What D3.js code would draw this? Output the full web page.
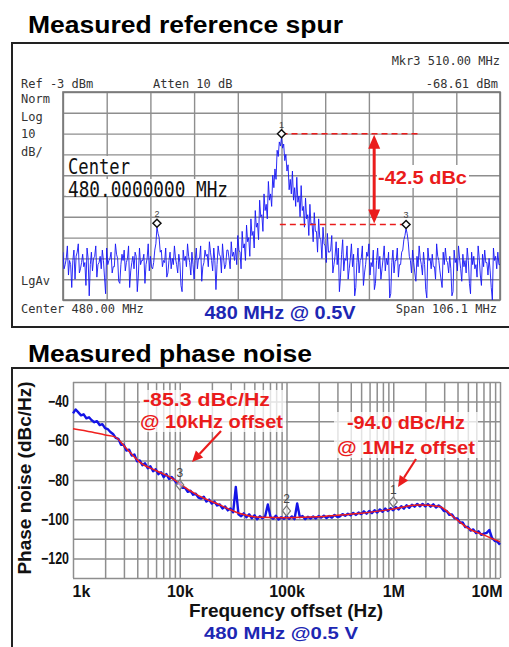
<!DOCTYPE html>
<html><head><meta charset="utf-8">
<script src="https://cdn.jsdelivr.net/npm/d3@7"></script>
<style>body{margin:0;background:#fff}svg{display:block}</style>
</head><body><svg id="c" width="509" height="647"></svg>
<script>
// ---------- Spectrum analyzer panel data ----------
const specStartMHz = 426.95, specStopMHz = 533.05;
const specRefDbm = -3, specDbPerDiv = 10, specDivs = 10;
// sweep bins: bin maxima
const specDbm = [
 -80,-86,-77,-84,-97,-79,-82,-76,-88,-81,-85,-78,-101,-80,-83,-77,-86,-82,-79,-92,-78,-84,-80,-87,-76,-83,-95,-81,-79,-85,-77,-89,-82,-80,-99,-78,-84,-81,-86,-76,-82,-88,-79,
 -68,-73,
 -79,-84,-78,-90,-80,-83,-77,-86,-81,-96,-79,-82,-76,-85,-80,-93,-78,-83,-77,-87,-79,-81,-75,-84,-78,-98,-77,-82,-76,-88,-79,-83,-75,-80,
 -78,-72,-80,-70,-76,-67,-73,-64,-70,-60,-66,-55,-62,-52,-57,-46,-52,-43,-40,-31,-27,-25,-28,-33,-38,-45,-41,-49,-44,-53,-48,-58,-54,-62,-57,-66,-61,-70,-64,-74,-68,-77,-71,
 -80,-72,-86,-75,-78,-92,-74,-83,-77,-88,-76,-81,-97,-78,-84,-77,-90,-80,-76,-85,-79,-95,-78,-82,-88,-77,-83,-80,-100,-79,-84,-78,-86,-80,
 -74,-68.6,-75,
 -84,-79,-90,-82,-77,-86,-80,-98,-78,-83,-81,-87,-76,-84,-93,-80,-78,-85,-82,-101,-79,-83,-77,-88,-81,-84,-78,-95,-80,-82,-86,-77,-91,-81,-79,-85,-83,-97,-78,-82,-80,-86
];
// in-between samples (half-bin positions)
const specMidDbm = [
 -88,-83,-91,-86,-84,-93,-80,-90,-85,-87,-96,-83,-86,-89,-82,-92,-85,-88,-84,-100,-86,-83,-90,-87,-81,-94,-86,-84,-89,-83,-97,-85,-88,-82,-91,-86,-84,-95,-83,-89,-87,-85,-76,
 -71,-80,
 -87,-85,-92,-84,-88,-86,-83,-90,-85,-99,-84,-87,-82,-91,-86,-84,-88,-83,-94,-85,-82,-87,-80,-89,-84,-86,-81,-90,-83,-86,-79,-88,-82,-84,
 -86,-79,-88,-78,-84,-75,-82,-72,-78,-68,-74,-63,-70,-60,-64,-55,-58,-49,-45,-34,-29,-30,-36,-41,-50,-52,-55,-58,-56,-63,-60,-68,-64,-72,-67,-75,-70,-80,-73,-83,-76,-85,
 -80,-79,-90,-82,-86,-99,-81,-89,-84,-93,-83,-87,-101,-85,-90,-83,-96,-86,-82,-91,-87,-98,-84,-88,-93,-83,-89,-86,-102,-85,-90,-84,-92,-86,-79,
 -72,-71,-82,
 -90,-85,-94,-87,-83,-91,-86,-102,-84,-88,-87,-93,-82,-89,-97,-86,-84,-90,-88,-99,-85,-89,-83,-94,-87,-90,-84,-100,-86,-88,-92,-83,-96,-87,-85,-91,-89,-103,-84,-88,-86
];
const specMarkerIdx = [{label:"1", idx:100},{label:"2", idx:43},{label:"3", idx:157}];
const dbcLabel = "-42.5 dBc";
const dashTopMHz = [480, 513.3], dashBotMHz = [479.6, 510], arrowMHz = 502.5;

// ---------- Phase noise panel data ----------
const pnStartHz = 1e3, pnPtsPerDecade = 40;
const pnMeasured = [
 -46,-44,-45.5,-47,-46.5,-48.5,-48,-49.5,-50.5,-50,-52,-51.5,-53.5,-54,-55.5,-56.5,-58.5,
 -59,-62,-62,-65,
 -64.5,-67.5,-67,-70.5,-70,
 -72.5,-71.5,-74,-73,-75.5,-74.5,
 -77,-76,-78.5,-77,-79.5,-78.5,
 -80,-82,-81.5,
 -84,-84,-86,-85.5,-87.5,-87,-89,
 -89.5,-88.5,-91,-90,-92,-91,-93,-92.5,
 -94.5,-93.5,-95.5,-94.5,-96.5,-83.5,-97.5,
 -98.5,-97,-99,-97.5,-99.5,-98,-100,-98.5,
 -99.5,-98.5,-92.5,-98.8,-99.8,-98.2,-100.2,-99,-99.8,-98.5,
 -99.8,-98.6,-100,-92,-99,-98.4,-100,-98.8,-99.6,-98.6,-99.6,-98.4,
 -99.2,-98.2,-99.4,-98.4,-99.2,-97.8,-98.8,
 -98.6,-97.4,-98.2,-97.2,-98,-96.8,-97.8,-96.6,-97.4,
 -96,-97.2,-95.8,-96.9,-95.4,-96.6,-95,-96.2,-94.6,-95.8,-94.4,-95.4,
 -93.8,-95,-93.4,-94.6,-92.9,-94.2,-92.6,-93.6,-92.2,
 -93.4,-92.2,-93.5,-92.3,-93.6,-92.4,-94,-93,
 -94,-95.8,-95.8,-97.8,-97.6,-99.6,
 -99.6,-101.8,-101.6,-104,-104,
 -105.8,-105.2,-107,-106.2,-108,-107.4,
 -107,-105.5,-109.5,-111,-111.5,-113
];
const pnFitHz = [1e3,1.5e3,2e3,2.47e3,3.2e3,4.24e3,6.1e3,8.7e3,1e4,1.5e4,2.4e4,3.6e4,5.5e4,1e5,2e5,3e5,5e5,1e6,1.7e6,2.7e6,3.7e6,5e6,7e6,1e7];
const pnFitDb = [-53.8,-55.5,-57,-58,-64.2,-71,-75.4,-79.5,-82,-88,-92.8,-97,-99,-99.2,-98.8,-98,-97,-94.8,-92.8,-93.5,-99,-104.5,-108,-111.5];
const pnMarkers = [{label:"3", f:1e4, db:-82.5},{label:"2", f:1e5, db:-95.8},{label:"1", f:1e6, db:-91.2}];
const pnXTicks = [1e3,1e4,1e5,1e6,1e7];
const pnXTickLabels = ["1k","10k","100k","1M","10M"];
const pnYTicks = [-40,-60,-80,-100,-120];

// ---------- drawing ----------
const svg = d3.select("#c");
svg.append("rect").attr("width",509).attr("height",647).attr("fill","#fff");
const SANS = "'Liberation Sans', Arial, sans-serif";
const MONO = "'DejaVu Sans Mono', monospace";
const RED = "#ea1c1c";
const GRID = "#8e8e8e";

// ===== Top panel =====
svg.append("text").attr("x",28).attr("y",33).attr("font-family",SANS).attr("font-weight","bold")
  .attr("font-size",23).attr("textLength",315).attr("lengthAdjust","spacingAndGlyphs").text("Measured reference spur");
svg.append("rect").attr("x",12).attr("y",43).attr("width",520).attr("height",284)
  .attr("fill","none").attr("stroke","#222").attr("stroke-width",2);

const xS = d3.scaleLinear().domain([specStartMHz, specStopMHz]).range([63, 500]);
const yS = d3.scaleLinear().domain([specRefDbm - specDbPerDiv*specDivs, specRefDbm]).range([300, 92]);
const specStep = (specStopMHz - specStartMHz)/(specDbm.length-1);
const freqAt = i => specStartMHz + i*specStep;

const gTop = svg.append("g");
const xGridVals = d3.range(specDivs+1).map(k => specStartMHz + k*(specStopMHz-specStartMHz)/specDivs);
const yGridVals = d3.range(specDivs+1).map(k => specRefDbm - k*specDbPerDiv);
gTop.append("g").attr("transform","translate(0,300)")
  .call(d3.axisBottom(xS).tickValues(xGridVals).tickSize(-208).tickFormat(""))
  .call(g=>{g.select(".domain").remove(); g.selectAll("line").attr("stroke",GRID).attr("stroke-width",1.4);});
gTop.append("g").attr("transform","translate(63,0)")
  .call(d3.axisLeft(yS).tickValues(yGridVals).tickSize(-437).tickFormat(""))
  .call(g=>{g.select(".domain").remove(); g.selectAll("line").attr("stroke",GRID).attr("stroke-width",1.4);});
gTop.append("rect").attr("x",63).attr("y",92).attr("width",437).attr("height",208)
  .attr("fill","none").attr("stroke","#777").attr("stroke-width",1.6);

// analyzer annotations
const monoT = (x,y,t,anchor,size) => svg.append("text").attr("x",x).attr("y",y).attr("font-family",MONO)
  .attr("font-size",size||12).attr("fill","#333").attr("text-anchor",anchor||"start").text(t);
monoT(500,65,"Mkr3  510.00 MHz","end");
monoT(21,88,"Ref -3 dBm");
monoT(153,88,"Atten 10 dB");
monoT(498,88,"-68.61 dBm","end");
monoT(21,103,"Norm"); monoT(21,121,"Log"); monoT(21,138,"10"); monoT(21,156,"dB/");
monoT(21,285,"LgAv");
monoT(21,313,"Center 480.00 MHz");
monoT(497,313,"Span 106.1 MHz","end");

// big center text with white backing
svg.append("rect").attr("x",66).attr("y",156).attr("width",63).attr("height",19).attr("fill","#fff");
svg.append("rect").attr("x",66).attr("y",179).attr("width",164).attr("height",17).attr("fill","#fff");
svg.append("text").attr("x",68).attr("y",174).attr("font-family",MONO).attr("font-size",22).attr("fill","#111")
  .attr("textLength",62).attr("lengthAdjust","spacingAndGlyphs").text("Center");
svg.append("text").attr("x",68).attr("y",197).attr("font-family",MONO).attr("font-size",22).attr("fill","#111")
  .attr("textLength",160).attr("lengthAdjust","spacingAndGlyphs").text("480.0000000 MHz");

// trace (bin samples interleaved with half-bin samples)
const specPts = [];
specDbm.forEach((v,i)=>{
  specPts.push([freqAt(i), v]);
  if (i < specMidDbm.length) specPts.push([freqAt(i+0.5), specMidDbm[i]]);
});
svg.append("clipPath").attr("id","clipTop").append("rect").attr("x",63).attr("y",92).attr("width",437).attr("height",208);
svg.append("path").datum(specPts).attr("clip-path","url(#clipTop)")
  .attr("fill","none").attr("stroke","#1616f5").attr("stroke-width",1).attr("stroke-opacity",0.9)
  .attr("d", d3.line().x(d=>xS(d[0])).y(d=>yS(d[1])));

// red dashed lines & arrow
const pkY = yS(specDbm[100]) - 4, sp3Y = yS(specDbm[157]) - 4;
svg.append("line").attr("x1",xS(dashTopMHz[0])).attr("x2",xS(dashTopMHz[1])).attr("y1",pkY).attr("y2",pkY)
  .attr("stroke",RED).attr("stroke-width",1.6).attr("stroke-dasharray","6,4");
svg.append("line").attr("x1",xS(dashBotMHz[0])).attr("x2",xS(dashBotMHz[1])).attr("y1",sp3Y).attr("y2",sp3Y)
  .attr("stroke",RED).attr("stroke-width",1.6).attr("stroke-dasharray","6,4");
const ax = xS(arrowMHz);
svg.append("line").attr("x1",ax).attr("x2",ax).attr("y1",pkY+10).attr("y2",sp3Y-10).attr("stroke",RED).attr("stroke-width",3);
svg.append("path").attr("fill",RED).attr("d",`M${ax},${pkY+1}L${ax-6},${pkY+15}L${ax+6},${pkY+15}Z`);
svg.append("path").attr("fill",RED).attr("d",`M${ax},${sp3Y-1}L${ax-6},${sp3Y-15}L${ax+6},${sp3Y-15}Z`);
svg.append("rect").attr("x",377).attr("y",165).attr("width",92).attr("height",23).attr("fill","#fff");
svg.append("text").attr("x",378).attr("y",184).attr("font-family",SANS).attr("font-weight","bold").attr("font-size",19)
  .attr("fill",RED).attr("textLength",89).attr("lengthAdjust","spacingAndGlyphs").text(dbcLabel);

// markers
specMarkerIdx.forEach(m=>{
  const x = xS(freqAt(m.idx)), y = yS(specDbm[m.idx]) - 4;
  svg.append("path").attr("d",`M${x},${y-4}L${x+4},${y}L${x},${y+4}L${x-4},${y}Z`)
    .attr("fill","#fff").attr("stroke","#111").attr("stroke-width",1.5);
  svg.append("text").attr("x",x).attr("y",y-6).attr("text-anchor","middle").attr("font-family",SANS)
    .attr("font-size",9).attr("fill","#444").text(m.label);
});

svg.append("text").attr("x",280).attr("y",319).attr("text-anchor","middle").attr("font-family",SANS)
  .attr("font-weight","bold").attr("font-size",19).attr("fill","#1d27b3")
  .attr("textLength",151).attr("lengthAdjust","spacingAndGlyphs").text("480 MHz @ 0.5V");

// ===== Bottom panel =====
svg.append("text").attr("x",28).attr("y",362).attr("font-family",SANS).attr("font-weight","bold")
  .attr("font-size",23).attr("textLength",284).attr("lengthAdjust","spacingAndGlyphs").text("Measured phase noise");
svg.append("path").attr("d","M12,660V368H520").attr("fill","none").attr("stroke","#222").attr("stroke-width",2);

const xP = d3.scaleLog().domain([1e3,1e7]).range([73,500]);
const yP = d3.scaleLinear().domain([-130,-30]).range([578,382]);
const minorVals = [];
[1e3,1e4,1e5,1e6].forEach(dec => { for (let k=1;k<=9;k++) minorVals.push(dec*k); });
minorVals.push(1e7);
const gB = svg.append("g");
gB.append("g").attr("transform","translate(0,578)")
  .call(d3.axisBottom(xP).tickValues(minorVals).tickSize(-196).tickFormat(""))
  .call(g=>{g.select(".domain").remove(); g.selectAll("line").attr("stroke",GRID).attr("stroke-width",1.5);});
gB.append("g").attr("transform","translate(73,0)")
  .call(d3.axisLeft(yP).tickValues(d3.range(-130,-29,10)).tickSize(-427).tickFormat(""))
  .call(g=>{g.select(".domain").remove(); g.selectAll("line").attr("stroke",GRID).attr("stroke-width",1.5);});

// y tick labels
gB.append("g").attr("transform","translate(73,0)")
  .call(d3.axisLeft(yP).tickValues(pnYTicks).tickSize(0).tickPadding(4).tickFormat(d3.format("d")))
  .call(g=>{g.select(".domain").remove(); g.selectAll("text").attr("font-family",SANS).attr("font-weight","bold")
    .attr("font-size",16).attr("fill","#111").attr("textLength",function(){return this.textContent.length*7;})
    .attr("lengthAdjust","spacingAndGlyphs");});
// x tick labels
gB.append("g").attr("transform","translate(0,578)")
  .call(d3.axisBottom(xP).tickValues(pnXTicks).tickSize(0).tickPadding(8).tickFormat((d,i)=>pnXTickLabels[i]))
  .call(g=>{g.select(".domain").remove(); g.selectAll("text").attr("font-family",SANS).attr("font-weight","bold")
    .attr("font-size",16).attr("fill","#111")
    .attr("text-anchor",(d,i)=> i===0 ? "start" : (i===pnXTicks.length-1 ? "end" : "middle"))
    .attr("dx",(d,i)=> i===0 ? -1 : (i===pnXTicks.length-1 ? 2 : 0));});

// annotation backgrounds
svg.append("rect").attr("x",140).attr("y",390).attr("width",146).attr("height",42).attr("fill","#fff").attr("fill-opacity",0.75);
svg.append("rect").attr("x",334).attr("y",412).attr("width",144).attr("height",46).attr("fill","#fff").attr("fill-opacity",0.75);

// traces
const pnFreqAt = i => pnStartHz * Math.pow(10, i/pnPtsPerDecade);
svg.append("path").datum(pnMeasured).attr("fill","none").attr("stroke","#1414e6").attr("stroke-width",2.4)
  .attr("stroke-linejoin","round")
  .attr("d", d3.line().x((d,i)=>xP(pnFreqAt(i))).y(d=>yP(d)));
svg.append("path").datum(pnFitHz.map((f,i)=>[f,pnFitDb[i]])).attr("fill","none").attr("stroke","#f0201e").attr("stroke-width",1.5)
  .attr("d", d3.line().curve(d3.curveMonotoneX).x(d=>xP(d[0])).y(d=>yP(d[1])));

pnMarkers.forEach(m=>{
  const x = xP(m.f), y = yP(m.db);
  svg.append("path").attr("d",`M${x},${y-5}L${x+4},${y}L${x},${y+5}L${x-4},${y}Z`)
    .attr("fill","#fff").attr("fill-opacity",0.5).attr("stroke","#777").attr("stroke-width",1.2);
  svg.append("text").attr("x",x).attr("y",y-8).attr("text-anchor","middle").attr("font-family",SANS)
    .attr("font-size",12).attr("fill","#444").text(m.label);
});

// annotation texts
const redT = (x,y,t,len) => svg.append("text").attr("x",x).attr("y",y).attr("font-family",SANS).attr("font-weight","bold")
  .attr("font-size",18).attr("fill",RED).attr("textLength",len).attr("lengthAdjust","spacingAndGlyphs").text(t);
redT(143,406,"-85.3 dBc/Hz",127);
redT(140,428,"@ 10kHz offset",143);
redT(347,429,"-94.0 dBc/Hz",118);
redT(337,454,"@ 1MHz offset",138);
// arrows
const arrow = (x1,y1,x2,y2) => {
  const a = Math.atan2(y2-y1,x2-x1), L=11, W=5;
  const bx = x2 - L*Math.cos(a), by = y2 - L*Math.sin(a);
  svg.append("line").attr("x1",x1).attr("y1",y1).attr("x2",bx).attr("y2",by).attr("stroke",RED).attr("stroke-width",2.2);
  svg.append("path").attr("fill",RED).attr("d",
    `M${x2},${y2}L${bx - W*Math.sin(a)},${by + W*Math.cos(a)}L${bx + W*Math.sin(a)},${by - W*Math.cos(a)}Z`);
};
arrow(221,431,192,462);
arrow(416,459,398,487);

// axis titles
svg.append("text").attr("transform","translate(31,478) rotate(-90)").attr("text-anchor","middle")
  .attr("font-family",SANS).attr("font-weight","bold").attr("font-size",19).attr("fill","#111").text("Phase noise (dBc/Hz)");
svg.append("text").attr("x",286).attr("y",617).attr("text-anchor","middle")
  .attr("font-family",SANS).attr("font-weight","bold").attr("font-size",19).attr("fill","#111").text("Frequency offset (Hz)");
svg.append("text").attr("x",281).attr("y",639).attr("text-anchor","middle")
  .attr("font-family",SANS).attr("font-weight","bold").attr("font-size",17).attr("fill","#1d27b3")
  .attr("textLength",154).attr("lengthAdjust","spacingAndGlyphs").text("480 MHz @0.5 V");
</script></body></html>
